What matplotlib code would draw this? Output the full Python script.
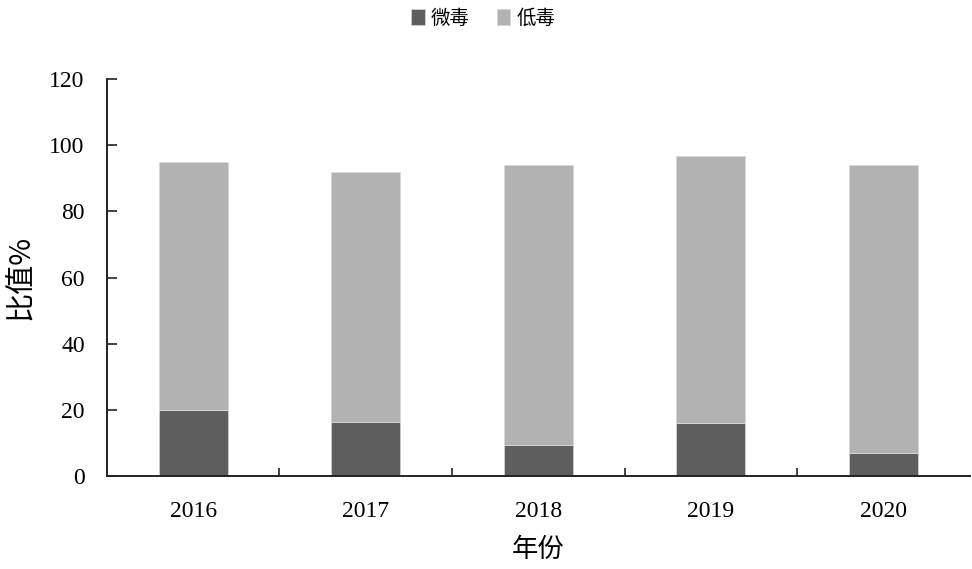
import numpy as np
import matplotlib
matplotlib.use("Agg")
import matplotlib.pyplot as plt

plt.rcParams['font.family'] = ['Noto Sans CJK SC', 'DejaVu Sans']

# data
years = ['2016', '2017', '2018', '2019', '2020']
weidu = [20.0, 16.4, 9.4, 16.0, 6.9]     # 微毒
didu = [74.8, 75.4, 84.6, 80.6, 87.1]    # 低毒
yticks = [0, 20, 40, 60, 80, 100, 120]

dark = '#5e5e5e'
light = '#b2b2b2'

fig = plt.figure(figsize=(9.72, 5.69), dpi=100)
ax = fig.add_axes([0.110, 0.1634, 0.8875, 0.6978])

x = np.arange(len(years))
ax.bar(x, weidu, width=0.4, color=dark, edgecolor='#d0d0d0', linewidth=0.6, label='微毒')
ax.bar(x, didu, width=0.4, bottom=weidu, color=light, edgecolor='#d8d8d8', linewidth=0.6, label='低毒')

ax.set_xlim(-0.5, 4.5)
ax.set_ylim(0, 120)
ax.set_yticks(yticks)
ax.set_yticklabels([str(v) for v in yticks], family='Liberation Serif', fontsize=17)

# year labels at bar centres, tick marks between categories
ax.set_xticks(x)
ax.set_xticklabels(years, family='Liberation Serif', fontsize=17)
ax.tick_params(axis='x', length=0, pad=18)
ax.set_xticks(np.arange(0.5, 4.5, 1.0), minor=True)
ax.tick_params(axis='x', which='minor', direction='in', length=6, width=1.2, color='#222222')
ax.tick_params(axis='y', direction='in', length=7, width=1.2, color='#222222', pad=16)

for s in ['top', 'right']:
    ax.spines[s].set_visible(False)
for s in ['left', 'bottom']:
    ax.spines[s].set_linewidth(1.4)
    ax.spines[s].set_color('#222222')

ax.set_ylabel('比值%', fontsize=21, labelpad=10)
ax.set_xlabel('年份', fontsize=19, labelpad=10)

fig.legend(loc='center', bbox_to_anchor=(0.497, 0.968), ncol=2, frameon=False,
           fontsize=14, handlelength=0.7, handleheight=0.9, handletextpad=0.3,
           columnspacing=1.4)

fig.savefig('out.png', dpi=100, facecolor='white')
